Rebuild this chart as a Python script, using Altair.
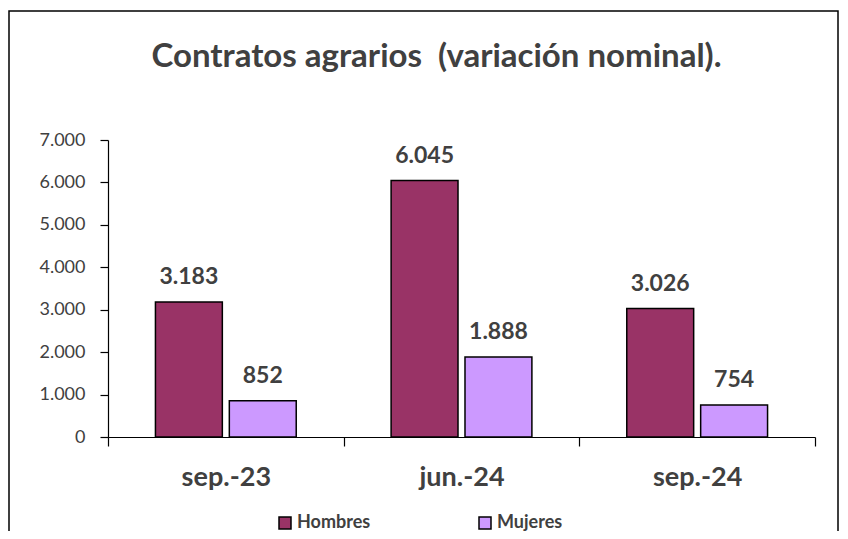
import altair as alt
import pandas as pd

periodos = ["sep.-23", "jun.-24", "sep.-24"]
hombres = [3183, 6045, 3026]
mujeres = [852, 1888, 754]
series = ["Hombres", "Mujeres"]
colores = ["#993366", "#CC99FF"]
y_ticks = [0, 1000, 2000, 3000, 4000, 5000, 6000, 7000]

rows = []
for p, h, m in zip(periodos, hombres, mujeres):
    rows.append({"periodo": p, "sexo": "Hombres", "valor": h})
    rows.append({"periodo": p, "sexo": "Mujeres", "valor": m})
df = pd.DataFrame(rows)
df["etiqueta"] = df["valor"].map(lambda v: f"{v:,}".replace(",", "."))

FONT = "Lato"
TXT = "#404040"

x_enc = alt.X(
    "periodo:N",
    sort=periodos,
    scale=alt.Scale(paddingInner=0, paddingOuter=0),
    axis=alt.Axis(
        title=None, labelAngle=0, tickBand="extent", tickSize=9,
        tickColor="black", domainColor="black", tickWidth=1.2, domainWidth=1.2,
        labelFont=FONT, labelFontSize=27, labelFontWeight="bold",
        labelColor=TXT, labelPadding=31, labelBaseline="middle",
    ),
)
xoff_enc = alt.XOffset(
    "sexo:N", sort=series,
    scale=alt.Scale(paddingInner=0.0946, paddingOuter=0.642),
)
y_enc = alt.Y(
    "valor:Q",
    scale=alt.Scale(domain=[0, 7000]),
    axis=alt.Axis(
        title=None, values=y_ticks, grid=False, tickSize=8,
        tickColor="black", domainColor="black", tickWidth=1.2, domainWidth=1.2,
        labelExpr="replace(format(datum.value, ','), ',', '.')",
        labelFont=FONT, labelFontSize=18, labelColor=TXT, labelPadding=15,
    ),
)

bars = alt.Chart(df).mark_bar(stroke="black", strokeWidth=1.5).encode(
    x=x_enc,
    xOffset=xoff_enc,
    y=y_enc,
    color=alt.Color(
        "sexo:N",
        sort=series,
        scale=alt.Scale(domain=series, range=colores),
        legend=alt.Legend(
            title=None, orient="none", direction="horizontal",
            legendX=168, legendY=374, padding=0,
            symbolType="square", symbolSize=144, symbolStrokeColor="black",
            symbolStrokeWidth=1.5, symbolOpacity=1,
            labelFont=FONT, labelFontSize=18, labelFontWeight="bold",
            labelColor=TXT, labelOffset=3, columnPadding=105,
        ),
    ),
)

labels = alt.Chart(df).mark_text(
    font=FONT, fontSize=23, fontWeight="bold", color=TXT,
    baseline="middle", dy=-25,
).encode(
    x=alt.X("periodo:N", sort=periodos),
    xOffset=alt.XOffset("sexo:N", sort=series),
    y="valor:Q",
    text="etiqueta:N",
)

frame = alt.Chart(pd.DataFrame({"k": [0]})).mark_rect(
    fill=None, stroke="black", strokeWidth=1.5
).encode(
    x=alt.value(-99), x2=alt.value(730),
    y=alt.value(-129), y2=alt.value(420),
)

chart = alt.layer(frame, bars, labels).properties(
    width=707,
    height=297,
    autosize=alt.AutoSizeParams(type="none"),
    padding={"left": 100, "top": 132, "right": 24, "bottom": 94},
    title=alt.TitleParams(
        "Contratos agrarios\u00a0 (variación nominal).",
        font=FONT, fontSize=33, fontWeight="bold", color=TXT,
        anchor="middle", baseline="middle", offset=-80, dx=-25,
    ),
).configure_view(stroke=None)

chart.save("out.html", embed_options={"renderer": "svg", "actions": False})
